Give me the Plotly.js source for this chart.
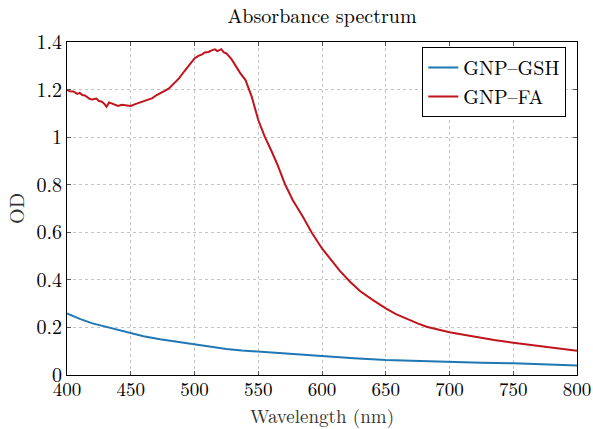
<!DOCTYPE html>
<html>
<head>
<meta charset="utf-8">
<script src="https://cdn.plot.ly/plotly-3.0.1.min.js"></script>
<style>html,body{margin:0;padding:0;background:#fff;}#chart{width:593px;height:429px;}</style>
</head>
<body>
<div id="chart"></div>
<script>
// GNP–GSH (blue)
const gshWavelength = [400, 410, 420, 430, 440, 450, 460, 473, 487, 500, 512, 525, 537, 550, 564, 577, 588, 600, 625, 650, 675, 700, 725, 750, 775, 800];
const gshOD = [0.259, 0.236, 0.217, 0.203, 0.189, 0.175, 0.163, 0.150, 0.139, 0.129, 0.119, 0.109, 0.103, 0.098, 0.093, 0.088, 0.083, 0.078, 0.070, 0.063, 0.058, 0.053, 0.051, 0.049, 0.045, 0.040];

// GNP–FA (red)
const faWavelength = [400, 402, 405, 408, 410, 412, 414, 416, 418, 420, 423, 425, 427, 429, 431, 433, 436, 440, 443, 447, 450, 453, 457, 460, 464, 467, 470, 473, 477, 480, 484, 488, 492, 496, 500, 503, 506, 508, 511, 513, 516, 518, 521, 523, 525, 529, 533, 536, 540, 545, 550, 555, 560, 565, 571, 577, 585, 592, 600, 607, 614, 622, 630, 640, 650, 658, 667, 675, 682, 690, 700, 710, 719, 735, 750, 760, 771, 780, 790, 800];
const faOD = [1.200, 1.193, 1.192, 1.182, 1.186, 1.177, 1.175, 1.168, 1.160, 1.158, 1.162, 1.152, 1.150, 1.142, 1.128, 1.146, 1.140, 1.131, 1.136, 1.134, 1.131, 1.138, 1.145, 1.150, 1.157, 1.164, 1.176, 1.186, 1.196, 1.205, 1.226, 1.248, 1.277, 1.302, 1.331, 1.342, 1.348, 1.356, 1.358, 1.364, 1.369, 1.362, 1.370, 1.356, 1.352, 1.328, 1.292, 1.268, 1.240, 1.168, 1.072, 1.003, 0.946, 0.885, 0.802, 0.736, 0.665, 0.598, 0.532, 0.483, 0.438, 0.392, 0.352, 0.315, 0.280, 0.256, 0.234, 0.217, 0.203, 0.192, 0.180, 0.170, 0.161, 0.147, 0.136, 0.129, 0.121, 0.115, 0.110, 0.102];

const xTicks = [400, 450, 500, 550, 600, 650, 700, 750, 800];
const yTicks = [0, 0.2, 0.4, 0.6, 0.8, 1, 1.2, 1.4];
const yTickText = ['0', '0.2', '0.4', '0.6', '0.8', '1', '1.2', '1.4'];

const serif = '"Latin Modern Roman", "CMU Serif", "DejaVu Serif", "Liberation Serif", serif';

const traces = [
  {x: gshWavelength, y: gshOD, type: 'scatter', mode: 'lines', name: 'GNP–GSH',
   line: {color: '#1f77b4', width: 2}},
  {x: faWavelength, y: faOD, type: 'scatter', mode: 'lines', name: 'GNP–FA',
   line: {color: '#c0141c', width: 2}}
];

const axisCommon = {
  showline: true, linecolor: '#000', linewidth: 1, mirror: 'allticks',
  ticks: 'inside', ticklen: 4, tickcolor: '#555', tickwidth: 1,
  showgrid: true, gridcolor: '#c4c4c4', griddash: '3px,3px', gridwidth: 1,
  zeroline: false, automargin: false,
  tickfont: {family: serif, size: 20, color: '#000'}
};

const layout = {
  width: 593, height: 429,
  margin: {l: 67, r: 16, t: 42, b: 54},
  paper_bgcolor: '#fff', plot_bgcolor: '#fff',
  font: {family: serif, color: '#000'},
  title: {text: 'Absorbance spectrum', font: {family: serif, size: 20, color: '#000'}, x: 0.543, xanchor: 'center', y: 0.962, yanchor: 'middle'},
  xaxis: Object.assign({}, axisCommon, {
    range: [400, 800], tickvals: xTicks, ticktext: xTicks.map(String),
    tickfont: {family: serif, size: 19, color: '#000'},
    ticklabelstandoff: -3,
    title: {text: 'Wavelength (nm)', font: {family: serif, size: 19, color: '#333'}, standoff: 6}
  }),
  yaxis: Object.assign({}, axisCommon, {
    range: [0, 1.4], tickvals: yTicks, ticktext: yTickText,
    title: {text: 'OD', font: {family: serif, size: 20, color: '#333'}, standoff: 6}
  }),
  legend: {
    x: 0.979, y: 0.985, xanchor: 'right', yanchor: 'top',
    bgcolor: '#fff', bordercolor: '#000', borderwidth: 1,
    font: {family: serif, size: 20, color: '#000'},
    tracegroupgap: 0
  },
  showlegend: true
};

Plotly.newPlot('chart', traces, layout, {staticPlot: true, displayModeBar: false});
</script>
</body>
</html>
